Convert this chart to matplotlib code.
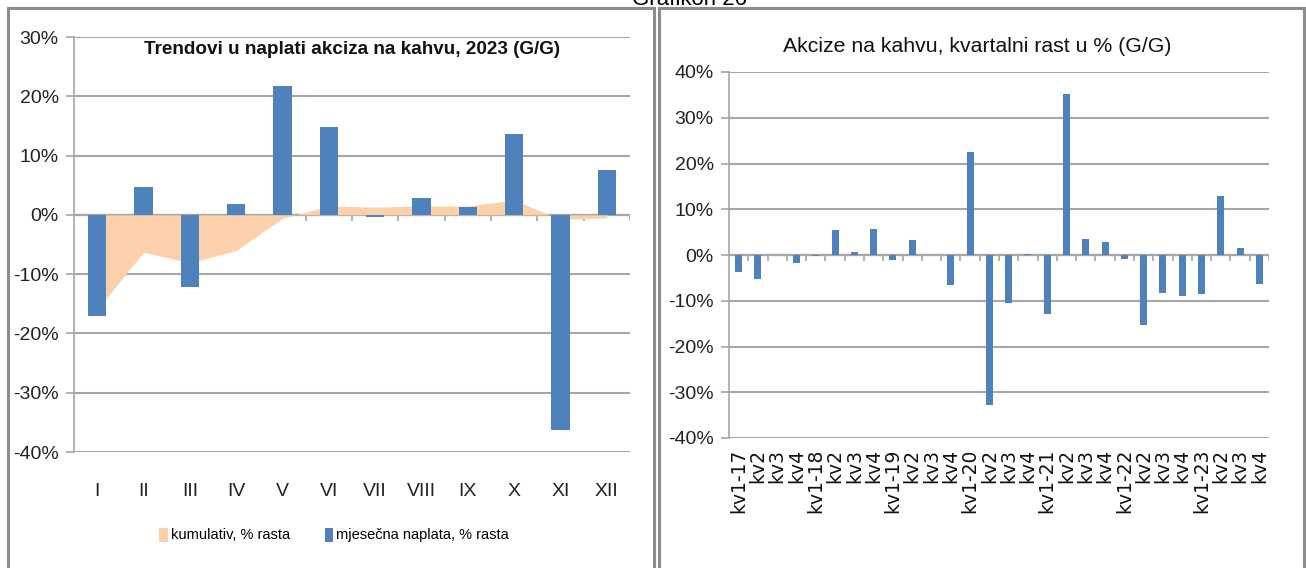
import matplotlib.pyplot as plt
from matplotlib.patches import Rectangle
from matplotlib.ticker import FuncFormatter
import numpy as np

# podaci - lijevi grafikon (mjeseci 2023)
months = ["I", "II", "III", "IV", "V", "VI", "VII", "VIII", "IX", "X", "XI", "XII"]
monthly = [-17.0, 4.7, -12.1, 1.9, 21.7, 14.9, -0.3, 2.9, 1.3, 13.7, -36.3, 7.6]
cumulative = [-16.0, -6.3, -8.1, -6.0, -0.6, 1.5, 1.3, 1.5, 1.5, 2.5, -0.8, -0.5]

# podaci - desni grafikon (kvartali 2017-2023)
quarters = ["kv1-17", "kv2", "kv3", "kv4",
            "kv1-18", "kv2", "kv3", "kv4",
            "kv1-19", "kv2", "kv3", "kv4",
            "kv1-20", "kv2", "kv3", "kv4",
            "kv1-21", "kv2", "kv3", "kv4",
            "kv1-22", "kv2", "kv3", "kv4",
            "kv1-23", "kv2", "kv3", "kv4"]
quarterly = [-3.8, -5.3, 0.0, -1.8,
             -0.3, 5.5, 0.7, 5.7,
             -1.2, 3.2, 0.0, -6.6,
             22.5, -32.7, -10.4, 0.3,
             -12.9, 35.3, 3.6, 2.8,
             -0.9, -15.4, -8.2, -9.0,
             -8.5, 12.8, 1.5, -6.3]

BLUE = "#4F81BD"
PEACH = "#FBD0AA"
GRID = "#A6A6A6"
FONT = ["Liberation Sans", "DejaVu Sans"]
W, H = 1306, 568

fig = plt.figure(figsize=(W / 100, H / 100), dpi=100)


def px_axes(x0, x1, ytop, ybot):
    return fig.add_axes([x0 / W, 1 - ybot / H, (x1 - x0) / W, (ybot - ytop) / H])


# okviri panela
for x0, x1 in [(8, 654), (659, 1304)]:
    fig.patches.append(Rectangle((x0 / W, -0.05), (x1 - x0) / W, 1.05 - 8 / H,
                                 transform=fig.transFigure, fill=False,
                                 edgecolor="#8C8C8C", linewidth=2.2, zorder=0))

# naslov iznad (u originalu odsjecen na vrhu)
fig.text(690 / W, 1 - 5 / H, "Grafikon 26", ha="center", va="baseline",
         fontsize=16, family=FONT)

pct = FuncFormatter(lambda v, p: "%d%%" % round(v))


def style(ax, ymin, ymax, n, tick_len):
    ax.set_ylim(ymin, ymax)
    ax.set_xlim(-0.5, n - 0.5)
    ax.set_yticks(np.arange(ymin, ymax + 1, 10))
    ax.yaxis.set_major_formatter(pct)
    ax.grid(axis="y", color=GRID, linewidth=1.5)
    ax.set_axisbelow(True)
    for s in ["top", "right", "bottom"]:
        ax.spines[s].set_visible(False)
    ax.spines["left"].set_color(GRID)
    ax.spines["left"].set_linewidth(1.2)
    ax.tick_params(axis="y", length=6, width=1.2, color=GRID, pad=5)
    ax.tick_params(axis="x", length=0)
    for lab in ax.get_yticklabels():
        lab.set_family(FONT)
        lab.set_fontsize(14)
        lab.set_color("#222222")
    # oznake kategorija na liniji nule
    ax.axhline(0, color=GRID, linewidth=1.6, zorder=1)
    ax.vlines(np.arange(0.5, n, 1.0), 0, -tick_len, color=GRID, linewidth=1.2, zorder=1)


# lijevi grafikon
ax1 = px_axes(74, 630, 37, 452)
x1 = np.arange(len(months))
ax1.fill_between(x1, cumulative, 0, color=PEACH, linewidth=0, zorder=2,
                 label="kumulativ, % rasta")
ax1.bar(x1, monthly, width=0.4, color=BLUE, zorder=3,
        label="mjesečna naplata, % rasta")
style(ax1, -40, 30, len(months), 1.0)
ax1.set_xticks(x1)
ax1.set_xticklabels(months, family=FONT, fontsize=14, color="#222222")
ax1.tick_params(axis="x", pad=22)
ax1.text(0.5, 0.99, "Trendovi u naplati akciza na kahvu, 2023 (G/G)",
         transform=ax1.transAxes, ha="center", va="top", fontsize=13.6,
         fontweight="bold", family=FONT, color="#111111")
ax1.legend(loc="center", bbox_to_anchor=(334 / W, 1 - 535 / H),
           bbox_transform=fig.transFigure, ncol=2, frameon=False,
           prop={"family": FONT, "size": 10.5}, handlelength=0.6,
           handleheight=1.1, handletextpad=0.2, columnspacing=2.4)

# desni grafikon
ax2 = px_axes(729, 1269, 72, 438)
x2 = np.arange(len(quarters))
ax2.bar(x2, quarterly, width=0.36, color=BLUE, zorder=3)
style(ax2, -40, 40, len(quarters), 1.3)
ax2.set_xticks(x2)
ax2.set_xticklabels(quarters, rotation=90, family=["DejaVu Sans"],
                    fontsize=13.5, color="#111111")
ax2.tick_params(axis="x", pad=8)
fig.text(977 / W, 1 - 47 / H, "Akcize na kahvu, kvartalni rast u % (G/G)",
         ha="center", va="center", fontsize=15.3, family=FONT, color="#111111")

fig.savefig("out.png", dpi=100)
